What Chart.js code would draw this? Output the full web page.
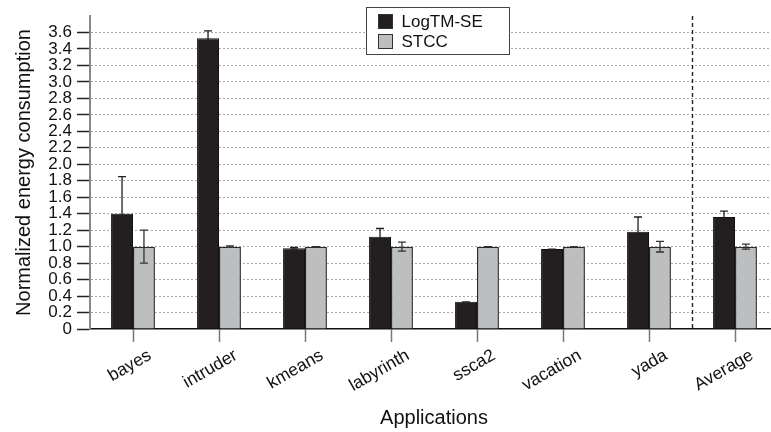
<!DOCTYPE html>
<html>
<head>
<meta charset="utf-8">
<script src="https://cdn.jsdelivr.net/npm/chart.js@4/dist/chart.umd.min.js"></script>
<style>
    html, body { margin: 0; padding: 0; background: #fff; overflow: hidden; }
    #wrap { width: 771px; height: 432px; overflow: hidden; }
</style>
</head>
<body>
<div id="wrap"><canvas id="chart" width="780" height="432"></canvas></div>
<script>
// --- Data ---
const apps = ['bayes', 'intruder', 'kmeans', 'labyrinth', 'ssca2', 'vacation', 'yada', 'Average'];
const seriesNames = ['LogTM-SE', 'STCC'];

const logtm = [1.40, 3.53, 0.98, 1.12, 0.33, 0.97, 1.18, 1.36];
const logtmHigh = [1.85, 3.62, 0.99, 1.22, 0.33, 0.97, 1.36, 1.43];
const logtmLow = [0.95, 3.44, 0.97, 1.02, 0.33, 0.97, 1.00, 1.29];

const stcc = [1.00, 1.00, 1.00, 1.00, 1.00, 1.00, 1.00, 1.00];
const stccHigh = [1.20, 1.01, 1.00, 1.055, 1.00, 1.00, 1.065, 1.03];
const stccLow = [0.80, 0.99, 1.00, 0.945, 1.00, 1.00, 0.935, 0.97];

const yTicks = [0, 0.2, 0.4, 0.6, 0.8, 1.0, 1.2, 1.4, 1.6, 1.8, 2.0, 2.2, 2.4, 2.6, 2.8, 3.0, 3.2, 3.4, 3.6];
const yMax = 3.8;

const FONT = '"Liberation Sans", Arial, Helvetica, sans-serif';
const errorRanges = [[logtmLow, logtmHigh], [stccLow, stccHigh]];

// --- Error bars drawn from the value scale ---
const errorBarPlugin = {
    id: 'errorBars',
    afterDatasetsDraw(chart) {
        const ctx = chart.ctx;
        const yScale = chart.scales.y;
        chart.data.datasets.forEach((ds, di) => {
            const meta = chart.getDatasetMeta(di);
            const [lo, hi] = errorRanges[di];
            meta.data.forEach((bar, i) => {
                const yHi = yScale.getPixelForValue(hi[i]);
                const yLo = yScale.getPixelForValue(lo[i]);
                const cap = 4;
                ctx.save();
                ctx.strokeStyle = di === 0 ? '#231f20' : '#333';
                ctx.lineWidth = 1.3;
                ctx.beginPath();
                ctx.moveTo(bar.x, yLo);
                ctx.lineTo(bar.x, yHi);
                ctx.moveTo(bar.x - cap, yHi);
                ctx.lineTo(bar.x + cap, yHi);
                ctx.moveTo(bar.x - cap, yLo);
                ctx.lineTo(bar.x + cap, yLo);
                ctx.stroke();
                ctx.restore();
            });
        });
    }
};

// --- Separator before "Average" and boxed legend ---
const decorPlugin = {
    id: 'decor',
    afterDraw(chart) {
        const ctx = chart.ctx;
        const area = chart.chartArea;
        const xScale = chart.scales.x;
        const n = apps.length;
        const sepX = (xScale.getPixelForValue(n - 2) + xScale.getPixelForValue(n - 1)) / 2;

        ctx.save();
        ctx.strokeStyle = '#222';
        ctx.lineWidth = 1.4;
        ctx.setLineDash([4, 3]);
        ctx.beginPath();
        ctx.moveTo(Math.round(sepX) + 0.5, area.top);
        ctx.lineTo(Math.round(sepX) + 0.5, area.bottom);
        ctx.stroke();
        ctx.restore();

        // legend box
        const boxW = 143, boxH = 47;
        const boxX = Math.round((area.left + area.right) / 2 - boxW / 2 + 3) + 0.5;
        const boxY = 7.5;
        ctx.save();
        ctx.fillStyle = '#fff';
        ctx.fillRect(boxX, boxY, boxW, boxH);
        ctx.strokeStyle = '#444';
        ctx.lineWidth = 1;
        ctx.strokeRect(boxX, boxY, boxW, boxH);
        ctx.font = '17px ' + FONT;
        ctx.textBaseline = 'middle';
        chart.data.datasets.forEach((ds, i) => {
            const sy = boxY + 7 + i * 20;
            ctx.fillStyle = ds.backgroundColor;
            ctx.fillRect(boxX + 12, sy, 14, 14);
            ctx.strokeStyle = '#333';
            ctx.strokeRect(boxX + 12, sy, 14, 14);
            ctx.fillStyle = '#111';
            ctx.fillText(ds.label, boxX + 35, sy + 7.5);
        });
        ctx.restore();
    }
};

const chart = new Chart(document.getElementById('chart'), {
    type: 'bar',
    data: {
        labels: apps,
        datasets: [
            {
                label: seriesNames[0],
                data: logtm,
                backgroundColor: '#231f20',
                borderColor: '#111',
                borderWidth: 1
            },
            {
                label: seriesNames[1],
                data: stcc,
                backgroundColor: '#bcbec0',
                borderColor: '#2a2a2a',
                borderWidth: 1.5
            }
        ]
    },
    options: {
        responsive: false,
        animation: false,
        layout: { padding: { top: 16, left: 0, right: 2, bottom: 0 } },
        categoryPercentage: 0.51,
        barPercentage: 1.0,
        plugins: {
            legend: { display: false },
            tooltip: { enabled: false }
        },
        scales: {
            x: {
                grid: {
                    offset: false,
                    drawOnChartArea: false,
                    drawTicks: true,
                    tickLength: 13,
                    tickColor: '#777',
                    tickWidth: 1.5
                },
                border: { color: '#111', width: 1.5 },
                ticks: {
                    color: '#111',
                    font: { family: FONT, size: 17.5 },
                    minRotation: 30,
                    maxRotation: 30,
                    autoSkip: false,
                    labelOffset: 17,
                    padding: 3
                },
                title: {
                    display: true,
                    text: 'Applications',
                    color: '#111',
                    font: { family: FONT, size: 20 },
                    padding: { top: 0, bottom: 2 }
                },
                afterFit(scale) { scale.height = 103; }
            },
            y: {
                min: 0,
                max: yMax,
                afterBuildTicks(scale) {
                    scale.ticks = yTicks.concat([yMax]).map(v => ({ value: v }));
                },
                grid: {
                    color: (c) => (c.tick && (c.tick.value === 0 || c.tick.value >= yMax)) ? 'rgba(0,0,0,0)' : '#aaa',
                    tickColor: (c) => (c.tick && c.tick.value >= yMax) ? 'rgba(0,0,0,0)' : '#222',
                    tickLength: 13,
                    tickWidth: 1.5,
                    lineWidth: 1
                },
                border: { color: '#888', width: 2, dash: [2, 2] },
                ticks: {
                    color: '#111',
                    font: { family: FONT, size: 17 },
                    autoSkip: false,
                    padding: 5,
                    callback: (v) => v >= yMax ? '' : (v === 0 ? '0' : v.toFixed(1))
                },
                title: {
                    display: true,
                    text: 'Normalized energy consumption',
                    color: '#111',
                    font: { family: FONT, size: 20 },
                    padding: { top: 12, bottom: 0 }
                },
                afterFit(scale) { scale.width = 90; }
            }
        }
    },
    plugins: [errorBarPlugin, decorPlugin]
});
</script>
</body>
</html>
